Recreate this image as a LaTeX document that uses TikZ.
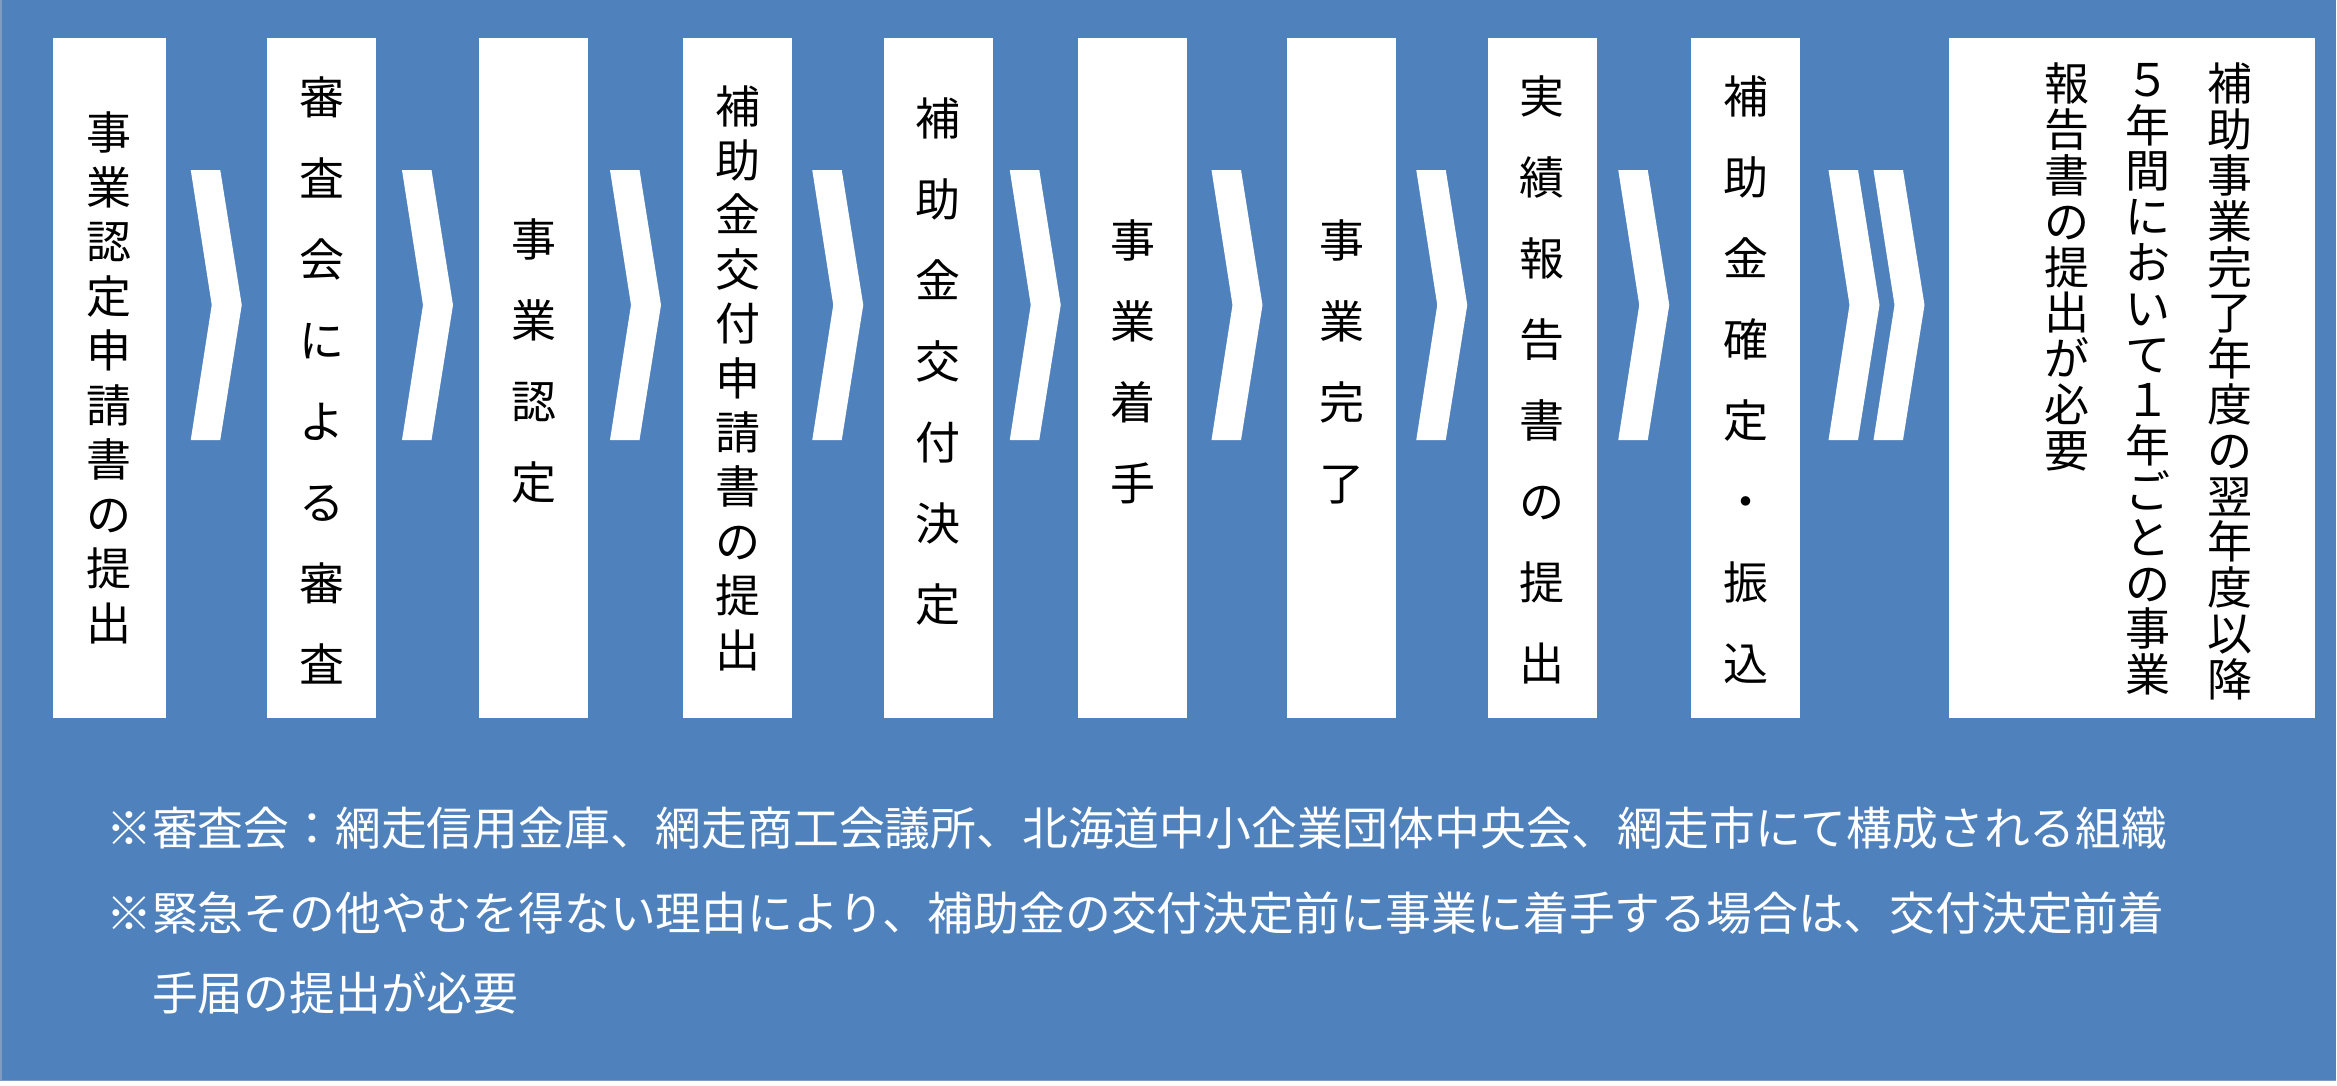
\documentclass[tikz,border=0pt]{standalone}
\usepackage{fontspec}
\newfontfamily\jp{Noto Sans CJK JP}
\usetikzlibrary{calc}
\definecolor{bg}{HTML}{4F81BD}
\definecolor{edge}{HTML}{7F9BBF}
\tikzset{
  stepbox/.style={fill=white, draw=none, minimum width=109, minimum height=680, inner sep=0},
  vt/.style={align=center, inner sep=0, text=black, font=\jp\fontsize{45}{#1}\selectfont},
  note/.style={anchor=west, inner sep=0, text=white, font=\jp\fontsize{45.8}{45.8}\selectfont},
  chev/.pic={\fill[white] (-25.5,-135) -- (4,-135) -- (25.5,0) -- (4,135) -- (-25.5,135) -- (-4.5,0) -- cycle;}
}
\begin{document}
\begin{tikzpicture}[x=1pt,y=-1pt]
\useasboundingbox (0,0) rectangle (2337,1085);
\fill[white] (0,0) rectangle (2337,1085);
\fill[bg] (0,0) rectangle (2336,1081);
\draw[edge, line width=1.5] (0.75,0) -- (0.75,1080.25) -- (2336,1080.25);
% boxes
\node[stepbox, minimum width=113] (b1) at (109,378) {};
\node[stepbox] (b2) at (321.5,378) {};
\node[stepbox] (b3) at (533.5,378) {};
\node[stepbox] (b4) at (737.5,378) {};
\node[stepbox] (b5) at (938,378) {};
\node[stepbox] (b6) at (1132.5,378) {};
\node[stepbox] (b7) at (1341.5,378) {};
\node[stepbox] (b8) at (1542,378) {};
\node[stepbox] (b9) at (1745.5,378) {};
\node[stepbox, minimum width=366.5] (b10) at (2131.75,378) {};
% texts
\node[vt=54.5] (t1) at (b1.center) {事\\業\\認\\定\\申\\請\\書\\の\\提\\出};
\node[vt=81] (t2) at ($(b2.center)+(0,2.5)$) {審\\査\\会\\に\\よ\\る\\審\\査};
\node[vt=81] (t3) at ($(b3.center)+(0,-16.5)$) {事\\業\\認\\定};
\node[vt=54.4] (t4) at (b4.center) {補\\助\\金\\交\\付\\申\\請\\書\\の\\提\\出};
\node[vt=81] (t5) at ($(b5.center)+(0,-16.5)$) {補\\助\\金\\交\\付\\決\\定};
\node[vt=81] (t6) at ($(b6.center)+(0,-16.5)$) {事\\業\\着\\手};
\node[vt=81] (t7) at ($(b7.center)+(0,-16.5)$) {事\\業\\完\\了};
\node[vt=81] (t8) at ($(b8.center)+(0,2)$) {実\\績\\報\\告\\書\\の\\提\\出};
\node[vt=81] (t9) at ($(b9.center)+(0,2)$) {補\\助\\金\\確\\定\\・\\振\\込};
\node[vt=45.8, anchor=north] (c1) at (2230,63) {補\\助\\事\\業\\完\\了\\年\\度\\の\\翌\\年\\度\\以\\降};
\node[vt=45.8, anchor=north] (c2) at (2148,63) {５\\年\\間\\に\\お\\い\\て\\１\\年\\ご\\と\\の\\事\\業};
\node[vt=45.8, anchor=north] (c3) at (2067,63) {報\\告\\書\\の\\提\\出\\が\\必\\要};
% chevrons
\coordinate (k1) at ($(b1.east)!.5!(b2.west)+(0,-73)$);
\coordinate (k2) at ($(b2.east)!.5!(b3.west)+(0,-73)$);
\coordinate (k3) at ($(b3.east)!.5!(b4.west)+(0,-73)$);
\coordinate (k4) at ($(b4.east)!.5!(b5.west)+(0,-73)$);
\coordinate (k5) at ($(b5.east)!.5!(b6.west)+(0,-73)$);
\coordinate (k6) at ($(b6.east)!.5!(b7.west)+(0,-73)$);
\coordinate (k7) at ($(b7.east)!.5!(b8.west)+(0,-73)$);
\coordinate (k8) at ($(b8.east)!.5!(b9.west)+(0,-73)$);
\coordinate (k9) at ($(b9.east)!.5!(b10.west)+(0,-73)$);
\foreach \k in {k1,k2,k3,k4,k5,k6,k7,k8} {\pic at (\k) {chev};}
\pic at ($(k9)+(-20.25,0)$) {chev};
\pic at ($(k9)+(24.75,0)$) {chev};
% notes
\node[note] (n1) at (106,828) {※審査会：網走信用金庫、網走商工会議所、北海道中小企業団体中央会、網走市にて構成される組織};
\node[note] (n2) at (106,913) {※緊急その他やむを得ない理由により、補助金の交付決定前に事業に着手する場合は、交付決定前着};
\node[note] (n3) at (106,993) {　手届の提出が必要};
\end{tikzpicture}
\end{document}
